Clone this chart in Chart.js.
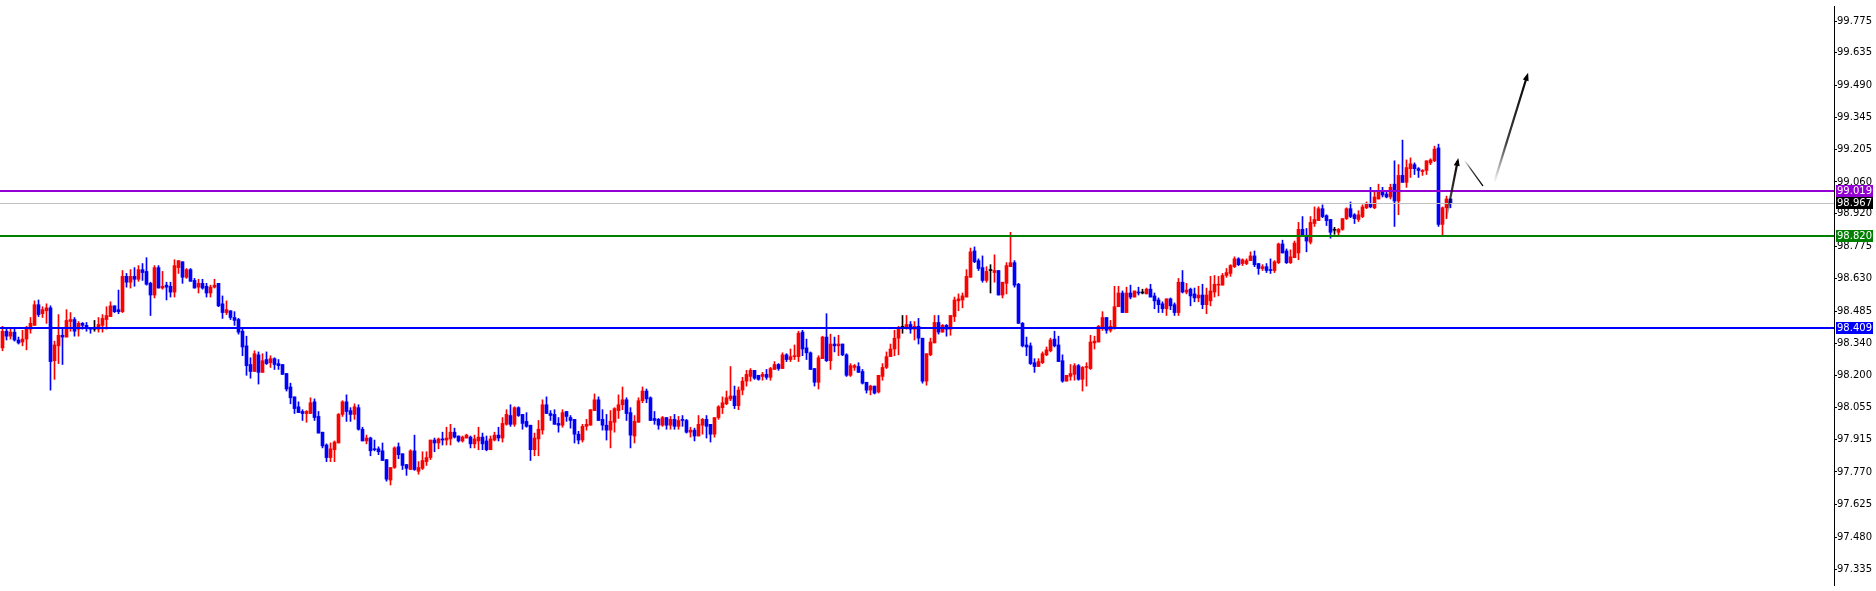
<!DOCTYPE html>
<html>
<head>
<meta charset="utf-8">
<script src="https://cdn.jsdelivr.net/npm/chart.js@4.4.1/dist/chart.umd.min.js"></script>
<style>
  html, body { margin: 0; padding: 0; background: #fff; }
  #wrap { width: 1876px; height: 591px; position: relative; }
</style>
</head>
<body>
<div id="wrap"><canvas id="chart"></canvas></div>
<script>
// OHLC, one value per bar (oldest first)
const opens = [
  98.322, 98.396, 98.374, 98.392, 98.357, 98.348, 98.361, 98.405, 98.422, 98.514,
  98.474, 98.487, 98.500, 98.265, 98.331, 98.378, 98.370, 98.439, 98.448, 98.405,
  98.431, 98.422, 98.413, 98.405, 98.405, 98.422, 98.448, 98.461, 98.509, 98.492,
  98.483, 98.640, 98.614, 98.640, 98.627, 98.670, 98.662, 98.609, 98.557, 98.679,
  98.588, 98.601, 98.596, 98.570, 98.679, 98.705, 98.636, 98.670, 98.622, 98.592,
  98.609, 98.596, 98.566, 98.592, 98.609, 98.518, 98.479, 98.487, 98.457, 98.448,
  98.396, 98.331, 98.248, 98.217, 98.291, 98.213, 98.270, 98.256, 98.274, 98.252,
  98.248, 98.208, 98.148, 98.104, 98.060, 98.039, 98.030, 98.030, 98.082, 98.017,
  97.947, 97.890, 97.834, 97.869, 97.899, 98.026, 98.082, 98.043, 98.026, 98.056,
  97.960, 97.908, 97.921, 97.873, 97.873, 97.864, 97.825, 97.734, 97.790, 97.882,
  97.851, 97.803, 97.781, 97.864, 97.773, 97.786, 97.816, 97.834, 97.912, 97.899,
  97.917, 97.912, 97.917, 97.947, 97.930, 97.908, 97.921, 97.925, 97.895, 97.908,
  97.925, 97.908, 97.869, 97.912, 97.934, 97.921, 97.982, 98.021, 97.982, 98.056,
  98.026, 97.995, 97.978, 97.869, 97.917, 97.956, 98.069, 98.030, 98.026, 97.986,
  97.978, 98.039, 98.012, 98.004, 97.938, 97.912, 97.973, 97.978, 98.043, 98.091,
  98.004, 97.978, 97.956, 97.991, 98.043, 98.069, 98.091, 98.034, 97.930, 97.991,
  98.087, 98.130, 98.100, 98.008, 98.004, 97.978, 98.012, 97.978, 98.004, 97.973,
  98.004, 97.999, 97.947, 97.956, 97.930, 97.978, 98.004, 97.982, 97.938, 98.012,
  98.056, 98.073, 98.095, 98.108, 98.065, 98.134, 98.174, 98.195, 98.222, 98.200,
  98.195, 98.204, 98.191, 98.226, 98.248, 98.230, 98.291, 98.270, 98.283, 98.283,
  98.392, 98.322, 98.300, 98.230, 98.169, 98.274, 98.370, 98.265, 98.339, 98.331,
  98.339, 98.291, 98.200, 98.235, 98.239, 98.217, 98.169, 98.134, 98.152, 98.126,
  98.195, 98.235, 98.283, 98.317, 98.365, 98.413, 98.409, 98.426, 98.405, 98.418,
  98.365, 98.174, 98.291, 98.344, 98.435, 98.392, 98.422, 98.405, 98.461, 98.531,
  98.535, 98.548, 98.636, 98.753, 98.710, 98.679, 98.622, 98.666, 98.657, 98.666,
  98.557, 98.609, 98.683, 98.701, 98.605, 98.431, 98.335, 98.331, 98.256, 98.239,
  98.256, 98.291, 98.309, 98.361, 98.335, 98.265, 98.174, 98.195, 98.204, 98.243,
  98.182, 98.235, 98.230, 98.344, 98.348, 98.413, 98.457, 98.400, 98.413, 98.505,
  98.566, 98.479, 98.566, 98.548, 98.570, 98.566, 98.562, 98.583, 98.553, 98.535,
  98.518, 98.496, 98.540, 98.514, 98.479, 98.614, 98.570, 98.583, 98.562, 98.544,
  98.557, 98.514, 98.531, 98.570, 98.601, 98.601, 98.644, 98.653, 98.683, 98.718,
  98.697, 98.697, 98.710, 98.731, 98.697, 98.675, 98.683, 98.670, 98.666, 98.701,
  98.784, 98.753, 98.701, 98.723, 98.744, 98.849, 98.823, 98.792, 98.875, 98.888,
  98.941, 98.910, 98.893, 98.845, 98.836, 98.849, 98.897, 98.941, 98.914, 98.893,
  98.906, 98.945, 98.963, 98.945, 98.984, 99.019, 99.006, 98.993, 99.050, 98.975,
  99.089, 99.058, 99.119, 99.137, 99.119, 99.106, 99.111, 99.145, 99.154, 99.211,
  98.871, 98.945, 98.984
];
const highs = [
  98.418, 98.405, 98.405, 98.405, 98.370, 98.400, 98.418, 98.457, 98.531, 98.535,
  98.505, 98.518, 98.509, 98.352, 98.470, 98.409, 98.492, 98.479, 98.457, 98.439,
  98.435, 98.435, 98.413, 98.444, 98.457, 98.470, 98.505, 98.527, 98.509, 98.579,
  98.666, 98.653, 98.670, 98.679, 98.688, 98.697, 98.723, 98.614, 98.688, 98.688,
  98.662, 98.614, 98.614, 98.714, 98.710, 98.705, 98.675, 98.675, 98.631, 98.627,
  98.627, 98.609, 98.601, 98.627, 98.609, 98.553, 98.531, 98.487, 98.483, 98.453,
  98.405, 98.374, 98.278, 98.309, 98.304, 98.296, 98.304, 98.287, 98.278, 98.270,
  98.248, 98.208, 98.165, 98.104, 98.082, 98.047, 98.043, 98.100, 98.095, 98.039,
  97.947, 97.895, 97.899, 97.908, 98.030, 98.087, 98.113, 98.056, 98.073, 98.069,
  97.969, 97.934, 97.925, 97.912, 97.882, 97.899, 97.825, 97.790, 97.882, 97.899,
  97.851, 97.803, 97.869, 97.934, 97.816, 97.860, 97.860, 97.912, 97.921, 97.921,
  97.947, 97.969, 97.982, 97.965, 97.930, 97.930, 97.938, 97.930, 97.934, 97.969,
  97.943, 97.930, 97.930, 97.947, 97.969, 98.012, 98.047, 98.069, 98.060, 98.060,
  98.026, 98.034, 97.978, 97.943, 97.999, 98.091, 98.104, 98.043, 98.047, 98.012,
  98.047, 98.039, 98.021, 98.004, 97.951, 97.982, 98.004, 98.047, 98.117, 98.104,
  98.047, 98.026, 98.043, 98.056, 98.113, 98.148, 98.100, 98.056, 98.021, 98.100,
  98.148, 98.139, 98.104, 98.039, 98.008, 98.017, 98.012, 98.017, 98.026, 98.017,
  98.021, 98.004, 97.969, 97.965, 98.021, 98.008, 98.021, 97.982, 98.012, 98.065,
  98.104, 98.130, 98.239, 98.152, 98.148, 98.191, 98.222, 98.230, 98.222, 98.200,
  98.213, 98.226, 98.235, 98.261, 98.252, 98.300, 98.296, 98.317, 98.335, 98.396,
  98.400, 98.361, 98.304, 98.230, 98.287, 98.374, 98.474, 98.383, 98.370, 98.378,
  98.339, 98.296, 98.252, 98.248, 98.256, 98.226, 98.169, 98.156, 98.152, 98.200,
  98.252, 98.304, 98.339, 98.400, 98.418, 98.466, 98.466, 98.439, 98.439, 98.453,
  98.365, 98.296, 98.365, 98.466, 98.466, 98.426, 98.426, 98.466, 98.548, 98.562,
  98.566, 98.670, 98.766, 98.771, 98.718, 98.731, 98.683, 98.692, 98.736, 98.666,
  98.614, 98.701, 98.836, 98.710, 98.609, 98.435, 98.370, 98.344, 98.274, 98.274,
  98.304, 98.326, 98.365, 98.396, 98.374, 98.291, 98.200, 98.248, 98.252, 98.248,
  98.239, 98.256, 98.378, 98.374, 98.422, 98.483, 98.457, 98.444, 98.596, 98.596,
  98.575, 98.592, 98.601, 98.575, 98.592, 98.583, 98.588, 98.605, 98.566, 98.544,
  98.527, 98.540, 98.544, 98.522, 98.631, 98.666, 98.609, 98.588, 98.588, 98.596,
  98.605, 98.588, 98.640, 98.644, 98.640, 98.653, 98.675, 98.692, 98.727, 98.723,
  98.718, 98.718, 98.749, 98.753, 98.697, 98.692, 98.697, 98.718, 98.710, 98.788,
  98.801, 98.762, 98.758, 98.797, 98.880, 98.906, 98.853, 98.906, 98.949, 98.949,
  98.958, 98.914, 98.893, 98.858, 98.853, 98.897, 98.945, 98.971, 98.919, 98.932,
  98.958, 98.971, 99.036, 99.015, 99.050, 99.036, 99.015, 99.050, 99.154, 99.137,
  99.246, 99.158, 99.167, 99.145, 99.124, 99.115, 99.154, 99.163, 99.219, 99.228,
  98.949, 98.997, 98.984
];
const lows = [
  98.309, 98.357, 98.361, 98.352, 98.339, 98.331, 98.313, 98.387, 98.422, 98.461,
  98.457, 98.431, 98.134, 98.182, 98.252, 98.248, 98.370, 98.396, 98.374, 98.374,
  98.405, 98.396, 98.387, 98.396, 98.392, 98.392, 98.405, 98.461, 98.479, 98.474,
  98.479, 98.592, 98.588, 98.596, 98.618, 98.622, 98.601, 98.466, 98.544, 98.588,
  98.583, 98.535, 98.548, 98.548, 98.653, 98.609, 98.631, 98.618, 98.588, 98.566,
  98.583, 98.548, 98.548, 98.588, 98.505, 98.453, 98.470, 98.448, 98.422, 98.383,
  98.287, 98.200, 98.187, 98.217, 98.161, 98.213, 98.248, 98.235, 98.226, 98.226,
  98.204, 98.130, 98.073, 98.030, 98.034, 97.999, 97.991, 98.030, 97.999, 97.943,
  97.877, 97.816, 97.816, 97.816, 97.899, 98.017, 97.995, 97.995, 98.004, 97.956,
  97.908, 97.895, 97.842, 97.864, 97.847, 97.821, 97.729, 97.712, 97.786, 97.829,
  97.781, 97.755, 97.781, 97.777, 97.760, 97.781, 97.799, 97.825, 97.860, 97.873,
  97.890, 97.890, 97.890, 97.921, 97.903, 97.903, 97.921, 97.877, 97.877, 97.869,
  97.869, 97.864, 97.869, 97.908, 97.908, 97.903, 97.978, 97.973, 97.973, 98.017,
  97.960, 97.969, 97.821, 97.842, 97.842, 97.938, 98.030, 97.999, 97.982, 97.947,
  97.969, 97.995, 97.965, 97.899, 97.895, 97.903, 97.956, 97.978, 98.043, 97.999,
  97.956, 97.912, 97.877, 97.947, 98.008, 98.047, 97.999, 97.877, 97.899, 97.991,
  98.078, 98.078, 97.999, 97.982, 97.960, 97.973, 97.960, 97.960, 97.960, 97.960,
  97.973, 97.943, 97.925, 97.908, 97.930, 97.938, 97.921, 97.903, 97.925, 98.004,
  98.030, 98.069, 98.087, 98.052, 98.047, 98.113, 98.152, 98.174, 98.182, 98.178,
  98.178, 98.182, 98.178, 98.226, 98.222, 98.230, 98.261, 98.261, 98.270, 98.261,
  98.287, 98.270, 98.226, 98.152, 98.139, 98.274, 98.261, 98.226, 98.304, 98.287,
  98.287, 98.195, 98.195, 98.222, 98.213, 98.161, 98.121, 98.113, 98.117, 98.121,
  98.178, 98.230, 98.283, 98.287, 98.291, 98.387, 98.405, 98.387, 98.357, 98.339,
  98.165, 98.156, 98.287, 98.344, 98.383, 98.392, 98.374, 98.378, 98.439, 98.487,
  98.500, 98.548, 98.636, 98.701, 98.666, 98.614, 98.614, 98.566, 98.614, 98.557,
  98.544, 98.562, 98.683, 98.592, 98.431, 98.326, 98.287, 98.248, 98.213, 98.239,
  98.252, 98.287, 98.304, 98.326, 98.261, 98.169, 98.174, 98.178, 98.178, 98.178,
  98.130, 98.152, 98.226, 98.317, 98.348, 98.400, 98.387, 98.392, 98.405, 98.505,
  98.479, 98.479, 98.540, 98.548, 98.557, 98.562, 98.562, 98.548, 98.496, 98.479,
  98.479, 98.466, 98.492, 98.466, 98.466, 98.566, 98.562, 98.509, 98.527, 98.527,
  98.496, 98.474, 98.509, 98.548, 98.553, 98.601, 98.636, 98.640, 98.679, 98.688,
  98.688, 98.692, 98.710, 98.683, 98.649, 98.666, 98.657, 98.653, 98.657, 98.697,
  98.744, 98.697, 98.697, 98.723, 98.714, 98.818, 98.749, 98.784, 98.862, 98.888,
  98.901, 98.866, 98.810, 98.827, 98.823, 98.845, 98.893, 98.901, 98.875, 98.884,
  98.901, 98.941, 98.945, 98.941, 98.984, 98.993, 98.989, 98.984, 98.862, 98.914,
  99.058, 99.036, 99.080, 99.093, 99.080, 99.089, 99.093, 99.137, 99.150, 98.862,
  98.823, 98.897, 98.945
];
const closes = [
  98.396, 98.374, 98.392, 98.357, 98.344, 98.361, 98.409, 98.431, 98.514, 98.470,
  98.492, 98.500, 98.261, 98.335, 98.378, 98.370, 98.444, 98.448, 98.396, 98.431,
  98.422, 98.409, 98.405, 98.405, 98.426, 98.453, 98.466, 98.509, 98.483, 98.483,
  98.640, 98.614, 98.640, 98.627, 98.670, 98.657, 98.605, 98.557, 98.679, 98.588,
  98.596, 98.592, 98.570, 98.688, 98.710, 98.636, 98.670, 98.618, 98.588, 98.609,
  98.588, 98.566, 98.592, 98.601, 98.509, 98.479, 98.492, 98.457, 98.444, 98.392,
  98.326, 98.243, 98.217, 98.296, 98.213, 98.265, 98.252, 98.274, 98.248, 98.243,
  98.204, 98.139, 98.100, 98.052, 98.034, 98.030, 98.039, 98.078, 98.012, 97.943,
  97.886, 97.834, 97.873, 97.903, 98.026, 98.082, 98.039, 98.026, 98.060, 97.960,
  97.908, 97.921, 97.864, 97.869, 97.860, 97.821, 97.738, 97.790, 97.877, 97.847,
  97.799, 97.786, 97.864, 97.781, 97.790, 97.821, 97.834, 97.912, 97.899, 97.917,
  97.912, 97.921, 97.947, 97.925, 97.908, 97.925, 97.934, 97.895, 97.917, 97.925,
  97.895, 97.869, 97.917, 97.934, 97.921, 97.986, 98.026, 97.982, 98.056, 98.021,
  97.986, 97.973, 97.869, 97.921, 97.960, 98.069, 98.030, 98.021, 97.982, 97.978,
  98.034, 98.017, 97.999, 97.938, 97.912, 97.973, 97.982, 98.047, 98.091, 97.999,
  97.978, 97.956, 97.995, 98.052, 98.069, 98.091, 98.030, 97.934, 97.995, 98.087,
  98.130, 98.095, 97.999, 97.999, 97.978, 98.012, 97.978, 98.004, 97.973, 97.999,
  97.999, 97.947, 97.956, 97.930, 97.982, 98.004, 97.973, 97.938, 98.012, 98.060,
  98.078, 98.100, 98.108, 98.065, 98.134, 98.174, 98.204, 98.222, 98.187, 98.182,
  98.204, 98.191, 98.230, 98.248, 98.230, 98.291, 98.270, 98.283, 98.287, 98.387,
  98.317, 98.300, 98.226, 98.169, 98.278, 98.370, 98.265, 98.339, 98.331, 98.339,
  98.291, 98.200, 98.243, 98.243, 98.213, 98.165, 98.134, 98.152, 98.121, 98.200,
  98.235, 98.283, 98.317, 98.365, 98.413, 98.413, 98.426, 98.405, 98.418, 98.365,
  98.174, 98.296, 98.348, 98.435, 98.392, 98.422, 98.405, 98.466, 98.535, 98.540,
  98.553, 98.640, 98.749, 98.705, 98.675, 98.622, 98.662, 98.666, 98.666, 98.557,
  98.614, 98.688, 98.701, 98.601, 98.431, 98.331, 98.326, 98.252, 98.239, 98.261,
  98.296, 98.313, 98.357, 98.331, 98.261, 98.174, 98.200, 98.208, 98.243, 98.182,
  98.235, 98.239, 98.348, 98.352, 98.418, 98.457, 98.400, 98.418, 98.505, 98.566,
  98.479, 98.566, 98.548, 98.575, 98.566, 98.566, 98.583, 98.548, 98.531, 98.514,
  98.496, 98.540, 98.509, 98.479, 98.614, 98.570, 98.579, 98.553, 98.544, 98.557,
  98.514, 98.557, 98.575, 98.605, 98.605, 98.644, 98.657, 98.688, 98.718, 98.692,
  98.714, 98.710, 98.731, 98.692, 98.675, 98.683, 98.666, 98.666, 98.705, 98.784,
  98.744, 98.701, 98.727, 98.788, 98.849, 98.818, 98.797, 98.880, 98.893, 98.941,
  98.906, 98.888, 98.836, 98.845, 98.849, 98.897, 98.941, 98.906, 98.897, 98.914,
  98.949, 98.963, 98.949, 98.993, 99.019, 99.002, 98.993, 99.036, 98.975, 99.089,
  99.058, 99.124, 99.141, 99.119, 99.111, 99.111, 99.154, 99.158, 99.206, 98.871,
  98.945, 98.984, 98.967
];

// price axis
const yMin = 97.2673;
const yMax = 99.8425;
const tickValues = [99.775, 99.635, 99.490, 99.345, 99.205, 99.060, 98.920, 98.775, 98.630,
                    98.485, 98.340, 98.200, 98.055, 97.915, 97.770, 97.625, 97.480, 97.335];
// bar slots across the plot (chart shift leaves empty room on the right)
const xMin = -0.625;
const xMax = 457.875;

// horizontal levels
const levelPrices = [99.019, 98.967, 98.820, 98.409];
const levelLineColors = ['#9400d3', '#c0c0c0', '#008000', '#0000ff'];
const levelBoxColors = ['#9400d3', '#000000', '#008000', '#0000ff'];
const levelWidths = [2, 1, 2, 2];

// hand drawn arrows (bar index / price)
const arrowX1 = [360.9, 365.6, 373.1];
const arrowY1 = [98.893, 99.154, 99.067];
const arrowX2 = [363.95, 370.05, 381.4];
const arrowY2 = [99.167, 99.044, 99.546];
const arrowHeads = [true, false, true];

const UP = '#ff0000', DOWN = '#0000ff', FLAT = '#000000';
const candleColors = opens.map((o, i) => closes[i] > o ? UP : (closes[i] < o ? DOWN : FLAT));
const bodies = opens.map((o, i) => ({ x: i, y: [o, closes[i]] }));
const wicks = opens.map((o, i) => ({ x: i, y: [lows[i], highs[i]] }));

const FONT = "'DejaVu Sans', sans-serif";
const FONT_SIZE = 10;

const levelsPlugin = {
  id: 'levels',
  afterDatasetsDraw(chart) {
    const { ctx, chartArea: a, scales: { y } } = chart;
    ctx.save();
    levelPrices.forEach((p, i) => {
      const py = Math.round(y.getPixelForValue(p));
      ctx.fillStyle = levelLineColors[i];
      const w = levelWidths[i];
      ctx.fillRect(a.left, py - Math.floor(w / 2), a.right - a.left, w);
    });
    ctx.restore();
  },
  afterDraw(chart) {
    const { ctx, chartArea: a, scales: { y } } = chart;
    ctx.save();
    ctx.font = FONT_SIZE + 'px ' + FONT;
    ctx.textBaseline = 'middle';
    levelPrices.forEach((p, i) => {
      const py = Math.round(y.getPixelForValue(p));
      ctx.fillStyle = levelBoxColors[i];
      ctx.fillRect(a.right + 2, py - 6, 37, 12);
      ctx.fillStyle = '#ffffff';
      ctx.fillText(p.toFixed(3), a.right + 3, py + 0.5);
    });
    ctx.restore();
  }
};

const arrowsPlugin = {
  id: 'arrows',
  afterDatasetsDraw(chart) {
    const { ctx, scales: { x, y } } = chart;
    ctx.save();
    arrowX1.forEach((_, i) => {
      const x1 = x.getPixelForValue(arrowX1[i]), y1 = y.getPixelForValue(arrowY1[i]);
      const x2 = x.getPixelForValue(arrowX2[i]), y2 = y.getPixelForValue(arrowY2[i]);
      const grad = ctx.createLinearGradient(x1, y1, x2, y2);
      grad.addColorStop(0, 'rgba(0,0,0,0.05)');
      grad.addColorStop(0.35, 'rgba(0,0,0,0.75)');
      grad.addColorStop(1, 'rgba(0,0,0,1)');
      const ang = Math.atan2(y2 - y1, x2 - x1);
      ctx.strokeStyle = grad;
      ctx.lineWidth = arrowHeads[i] ? 2.2 : 1.3;
      ctx.lineCap = 'round';
      ctx.beginPath();
      ctx.moveTo(x1, y1);
      ctx.lineTo(x2 - (arrowHeads[i] ? 4 * Math.cos(ang) : 0), y2 - (arrowHeads[i] ? 4 * Math.sin(ang) : 0));
      ctx.stroke();
      if (arrowHeads[i]) {
        const len = 8, half = 3;
        ctx.fillStyle = '#000';
        ctx.beginPath();
        ctx.moveTo(x2, y2);
        ctx.lineTo(x2 - len * Math.cos(ang) + half * Math.sin(ang), y2 - len * Math.sin(ang) - half * Math.cos(ang));
        ctx.lineTo(x2 - len * Math.cos(ang) - half * Math.sin(ang), y2 - len * Math.sin(ang) + half * Math.cos(ang));
        ctx.closePath();
        ctx.fill();
      }
    });
    ctx.restore();
  }
};

new Chart(document.getElementById('chart'), {
  type: 'bar',
  data: {
    datasets: [
      { data: bodies, backgroundColor: candleColors, barThickness: 3, minBarLength: 1,
        grouped: false, order: 0, borderWidth: 0 },
      { data: wicks, backgroundColor: candleColors, barThickness: 1,
        grouped: false, order: 1, borderWidth: 0 }
    ]
  },
  options: {
    responsive: true, maintainAspectRatio: false,
    animation: false, devicePixelRatio: 1, events: [],
    layout: { padding: 0 },
    plugins: { legend: { display: false }, tooltip: { enabled: false } },
    scales: {
      x: { type: 'linear', display: false, min: xMin, max: xMax, offset: false },
      y: {
        position: 'right', min: yMin, max: yMax,
        afterBuildTicks: s => { s.ticks = tickValues.map(v => ({ value: v })); },
        afterFit: s => { s.width = 42; },
        ticks: { color: '#000', font: { family: FONT, size: FONT_SIZE }, padding: 0, autoSkip: false,
                 callback: v => Number(v).toFixed(3) },
        grid: { drawOnChartArea: false, tickLength: 3, color: '#000' },
        border: { display: true, color: '#000', width: 1 }
      }
    }
  },
  plugins: [levelsPlugin, arrowsPlugin]
});
</script>
</body>
</html>
